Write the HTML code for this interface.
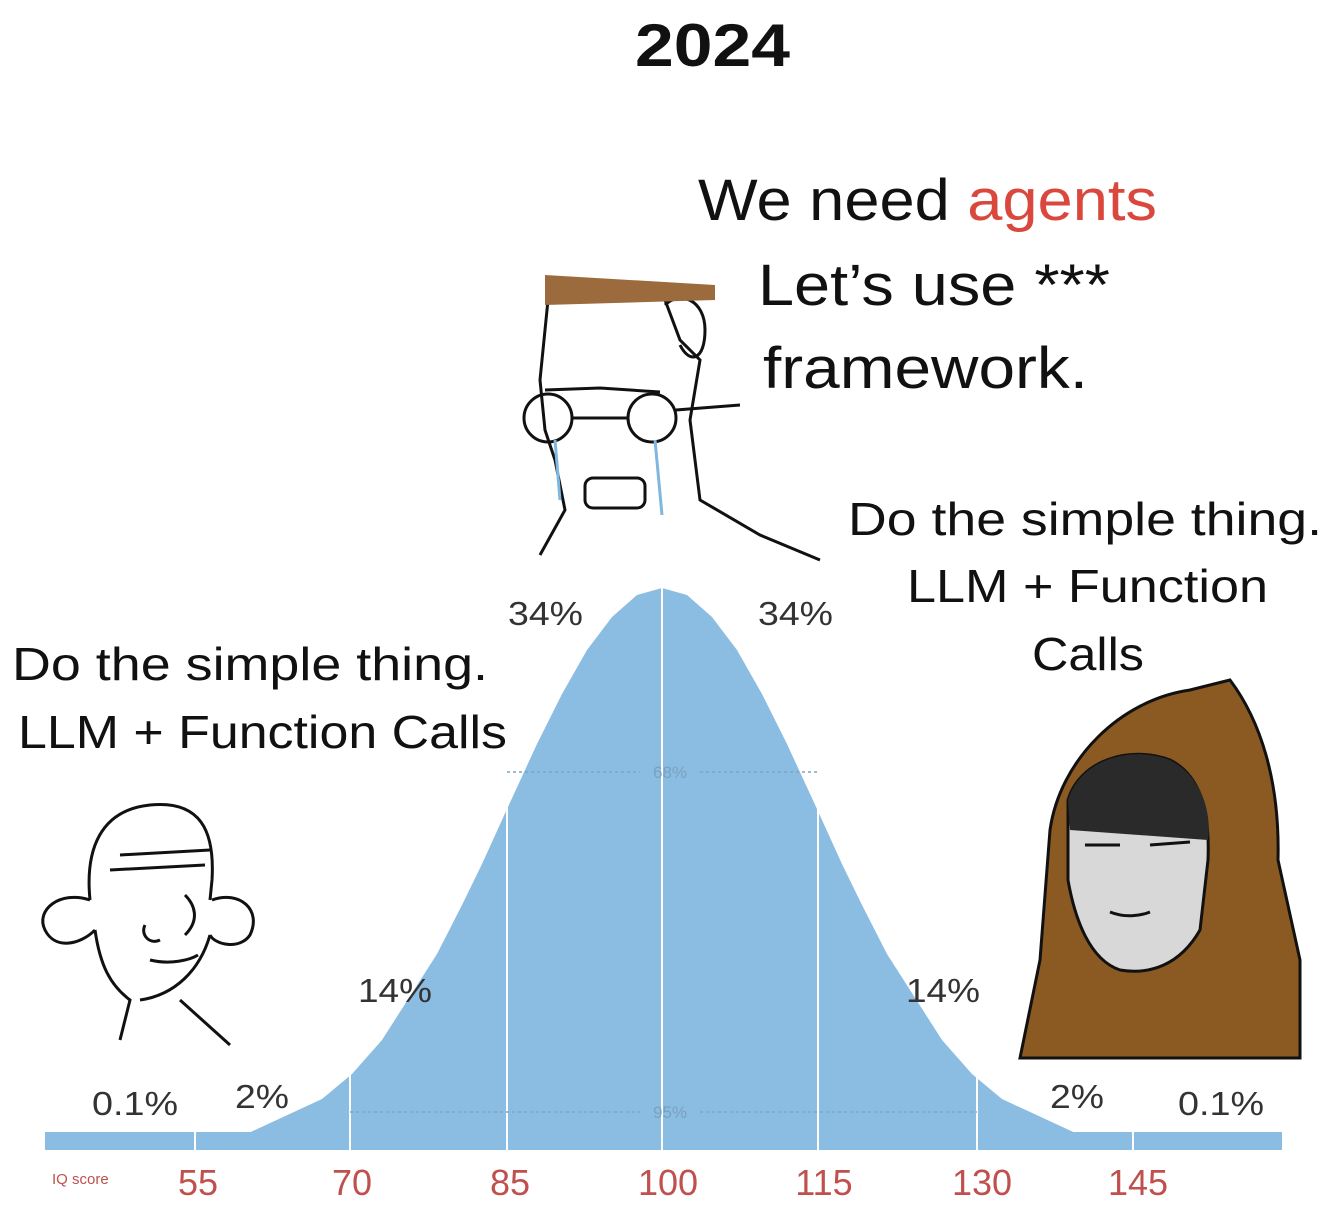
<!DOCTYPE html>
<html><head><meta charset="utf-8"><style>
html,body{margin:0;padding:0;background:#fff;}
body{width:1322px;height:1228px;overflow:hidden;position:relative;font-family:"Liberation Sans",Arial,sans-serif;}
</style></head><body>
<svg width="1322" height="1228" viewBox="0 0 1322 1228" xmlns="http://www.w3.org/2000/svg" style="position:absolute;left:0;top:0">
<rect width="1322" height="1228" fill="#fff"/>
<text x="635" y="66" textLength="155" lengthAdjust="spacingAndGlyphs" font-family="Liberation Sans, sans-serif" font-weight="bold" font-size="60" fill="#111">2024</text>

<!-- bell curve -->
<rect x="45" y="1132" width="1237" height="18" fill="#8bbde3"/>
<polygon fill="#8bbde3" points="
197,1146 242,1136 322,1099 352,1074 382,1040 437,954 462,905 482,864 507,809 537,744 562,694 587,650 612,617 637,595 662,588
687,595 712,617 737,650 762,694 787,744 817,809 842,864 862,905 887,954 942,1040 972,1074 1002,1099 1082,1136 1127,1146 1127,1150 197,1150"/>
<g stroke="#fff" stroke-width="2">
<line x1="195" y1="1125" x2="195" y2="1152"/>
<line x1="350" y1="1060" x2="350" y2="1152"/>
<line x1="507" y1="790" x2="507" y2="1152"/>
<line x1="662" y1="585" x2="662" y2="1152"/>
<line x1="818" y1="790" x2="818" y2="1152"/>
<line x1="977" y1="1060" x2="977" y2="1152"/>
<line x1="1133" y1="1125" x2="1133" y2="1152"/>
</g>
<g stroke="#7aa6c9" stroke-width="1.5" stroke-dasharray="3,3">
<line x1="507" y1="772" x2="640" y2="772"/><line x1="700" y1="772" x2="818" y2="772"/>
<line x1="350" y1="1112" x2="640" y2="1112"/><line x1="700" y1="1112" x2="977" y2="1112"/>
</g>
<text x="670" y="778" text-anchor="middle" font-size="17" fill="#7aa0c0">68%</text>
<text x="670" y="1118" text-anchor="middle" font-size="17" fill="#7aa0c0">95%</text>

<g font-size="33" fill="#333">
<text x="508" y="625" textLength="75" lengthAdjust="spacingAndGlyphs">34%</text>
<text x="758" y="625" textLength="75" lengthAdjust="spacingAndGlyphs">34%</text>
<text x="358" y="1002" textLength="74" lengthAdjust="spacingAndGlyphs">14%</text>
<text x="906" y="1002" textLength="74" lengthAdjust="spacingAndGlyphs">14%</text>
<text x="235" y="1108" textLength="54" lengthAdjust="spacingAndGlyphs">2%</text>
<text x="1050" y="1108" textLength="54" lengthAdjust="spacingAndGlyphs">2%</text>
<text x="92" y="1115" textLength="86" lengthAdjust="spacingAndGlyphs">0.1%</text>
<text x="1178" y="1115" textLength="86" lengthAdjust="spacingAndGlyphs">0.1%</text>
</g>
<g font-size="36" fill="#c0504d" text-anchor="middle">
<text x="198" y="1195">55</text><text x="352" y="1195">70</text><text x="510" y="1195">85</text>
<text x="668" y="1195">100</text><text x="824" y="1195">115</text><text x="982" y="1195">130</text><text x="1138" y="1195">145</text>
</g>
<text x="52" y="1184" font-size="15" fill="#c0504d">IQ score</text>

<!-- texts -->
<g font-size="58" fill="#111">
<text x="698" y="220" textLength="459" lengthAdjust="spacingAndGlyphs">We need <tspan fill="#d9473d">agents</tspan></text>
<text x="758" y="305" textLength="352" lengthAdjust="spacingAndGlyphs">Let’s use ***</text>
<text x="763" y="388" textLength="325" lengthAdjust="spacingAndGlyphs">framework.</text>
</g>
<g font-size="46" fill="#111">
<text x="12" y="680" textLength="476" lengthAdjust="spacingAndGlyphs">Do the simple thing.</text>
<text x="18" y="748" textLength="489" lengthAdjust="spacingAndGlyphs">LLM + Function Calls</text>
<text x="848" y="535" textLength="474" lengthAdjust="spacingAndGlyphs">Do the simple thing.</text>
<text x="907" y="602" textLength="361" lengthAdjust="spacingAndGlyphs">LLM + Function</text>
<text x="1032" y="670" textLength="112" lengthAdjust="spacingAndGlyphs">Calls</text>
</g>

<!-- middle guy -->
<g fill="none" stroke="#111" stroke-width="3">
<path d="M548,300 L540,380 L545,430 L555,460 L565,510 L540,555"/>
<path d="M665,300 L680,340 L700,360 L690,420 L700,500 L760,535 L820,560"/>
<path d="M665,305 C680,290 705,300 705,330 C705,360 690,365 680,345"/>
<circle cx="548" cy="418" r="24"/><circle cx="652" cy="418" r="24"/>
<line x1="572" y1="418" x2="628" y2="418"/><line x1="676" y1="410" x2="740" y2="405"/>
<rect x="585" y="478" width="60" height="30" rx="8"/>
<path d="M545,390 L600,388 L660,392"/>
</g>
<path d="M545,275 L715,285 L715,300 L545,305 Z" fill="#9b6a3d"/>
<g stroke="#7fb7e0" stroke-width="3" fill="none"><path d="M555,440 L560,500"/><path d="M655,440 L662,515"/></g>

<!-- left guy -->
<g fill="none" stroke="#111" stroke-width="3">
<path d="M90,900 C85,850 100,810 150,805 C200,800 215,830 212,880 L210,900"/>
<path d="M90,900 C60,890 35,910 45,930 C55,950 80,945 95,930"/>
<path d="M212,900 C240,890 262,910 250,935 C240,950 215,945 210,935"/>
<path d="M95,930 C100,965 110,985 130,1000 L120,1040"/>
<path d="M210,935 C200,970 175,995 140,1000"/>
<path d="M180,1000 L230,1045"/>
<path d="M120,855 L210,850"/><path d="M110,870 L205,865"/>
<path d="M145,925 C140,935 150,945 160,940"/><path d="M150,960 C170,965 190,960 198,955"/>
<path d="M185,895 C195,905 200,920 185,935"/>
</g>

<!-- right hooded -->
<path d="M1020,1058 L1040,960 L1050,830 C1060,760 1120,700 1190,690 L1230,680 C1260,720 1280,780 1278,860 L1300,960 L1300,1058 Z" fill="#8a5a22" stroke="#111" stroke-width="3"/>
<path d="M1068,800 C1080,760 1130,745 1170,760 C1200,775 1210,810 1208,860 L1200,930 C1180,965 1150,975 1120,970 C1090,960 1075,920 1068,880 Z" fill="#d8d8d8" stroke="#111" stroke-width="3"/>
<path d="M1068,800 C1080,760 1130,745 1170,760 C1200,775 1212,810 1208,840 L1070,830 Z" fill="#2a2a2a"/>
<g fill="none" stroke="#111" stroke-width="3">
<path d="M1085,845 L1120,845"/><path d="M1150,845 L1190,842"/>
<path d="M1110,912 C1125,918 1140,916 1150,912"/>
</g>
</svg>
</body></html>
